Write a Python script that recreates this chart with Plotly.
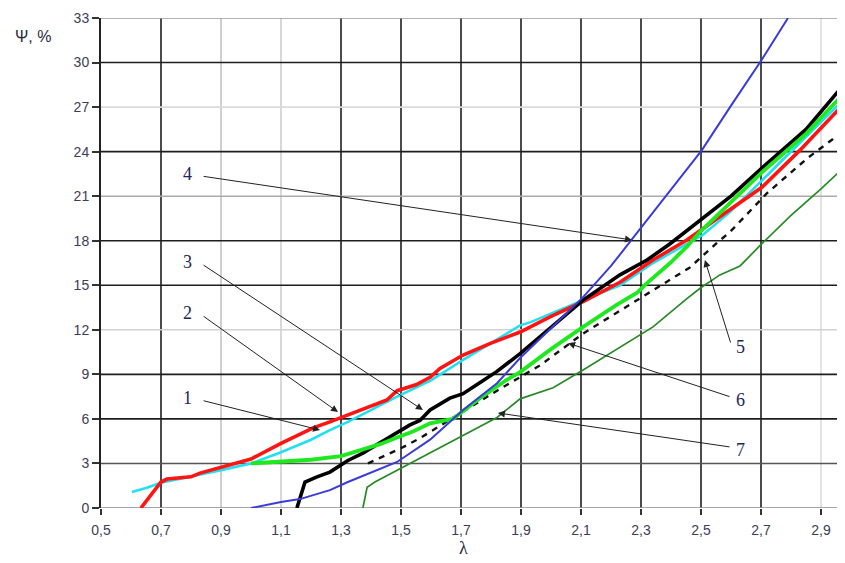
import plotly.graph_objects as go

# ---------------- data ----------------
x_ticks = [0.5, 0.7, 0.9, 1.1, 1.3, 1.5, 1.7, 1.9, 2.1, 2.3, 2.5, 2.7, 2.9]
x_tick_text = ["0,5", "0,7", "0,9", "1,1", "1,3", "1,5", "1,7", "1,9", "2,1", "2,3", "2,5", "2,7", "2,9"]
y_ticks = [0, 3, 6, 9, 12, 15, 18, 21, 24, 27, 30, 33]

red_x = [0.633, 0.66, 0.69, 0.70, 0.72, 0.76, 0.80, 0.83, 0.9, 1.0, 1.1, 1.207, 1.263, 1.323, 1.4,
         1.453, 1.487, 1.55, 1.597, 1.63, 1.707, 1.8, 1.897, 2.0, 2.107, 2.23, 2.34, 2.453, 2.54,
         2.703, 2.83, 2.98]
red_y = [0, 0.7, 1.45, 1.75, 1.95, 2.05, 2.1, 2.35, 2.75, 3.3, 4.35, 5.4, 5.8, 6.25, 6.85,
         7.27, 7.9, 8.3, 8.8, 9.4, 10.3, 11.1, 11.85, 12.9, 13.9, 15.2, 16.7, 18.05, 19.3,
         21.6, 24.1, 27.3]

cyan_x = [0.603, 0.65, 0.70, 0.8, 0.9, 1.0, 1.1, 1.2, 1.263, 1.323, 1.4, 1.487, 1.6, 1.707, 1.8,
          1.897, 1.93, 2.0, 2.107, 2.23, 2.34, 2.507, 2.6, 2.7, 2.8, 2.9, 2.98]
cyan_y = [1.08, 1.35, 1.7, 2.1, 2.55, 3.0, 3.75, 4.6, 5.25, 5.8, 6.6, 7.5, 8.6, 9.97, 11.1,
          12.3, 12.5, 13.1, 14.0, 15.0, 16.5, 18.4, 20.0, 22.0, 24.0, 26.0, 27.6]

black_x = [1.153, 1.165, 1.18, 1.22, 1.263, 1.323, 1.373, 1.43, 1.487, 1.53, 1.563, 1.597, 1.663,
           1.707, 1.76, 1.82, 1.897, 2.0, 2.107, 2.23, 2.32, 2.397, 2.507, 2.6, 2.703, 2.85, 2.98]
black_y = [0, 0.8, 1.75, 2.1, 2.42, 3.2, 3.7, 4.4, 5.1, 5.6, 5.9, 6.6, 7.4,
           7.7, 8.4, 9.2, 10.4, 12.2, 14.0, 15.7, 16.7, 17.8, 19.5, 21.0, 22.9, 25.5, 28.6]

blue_x = [1.0, 1.1, 1.163, 1.22, 1.263, 1.323, 1.4, 1.487, 1.597, 1.707, 1.82, 1.897, 2.0, 2.107,
          2.2, 2.313, 2.4, 2.503, 2.6, 2.703, 2.79]
blue_y = [0.0, 0.4, 0.6, 0.95, 1.2, 1.75, 2.4, 3.1, 4.6, 6.6, 8.4, 10.1, 12.1, 14.2,
          16.3, 19.2, 21.4, 24.1, 27.1, 30.2, 33.0]

dash_x = [1.39, 1.457, 1.507, 1.563, 1.7, 1.82, 1.963, 2.107, 2.207, 2.363, 2.463, 2.553, 2.597,
          2.72, 2.857, 2.97]
dash_y = [3.0, 3.6, 4.1, 4.7, 6.4, 7.9, 9.6, 11.75, 13.0, 14.95, 16.2, 17.85, 18.6,
          21.2, 23.6, 25.3]

green_x = [1.0, 1.1, 1.2, 1.3, 1.373, 1.43, 1.487, 1.54, 1.597, 1.673, 1.763, 1.85, 1.897, 2.0,
           2.107, 2.22, 2.287, 2.32, 2.397, 2.453, 2.497, 2.563, 2.703, 2.85, 2.98]
green_y = [3.0, 3.1, 3.25, 3.5, 3.95, 4.3, 4.75, 5.15, 5.7, 6.0, 7.4, 8.6, 9.15, 10.7,
           12.2, 13.7, 14.5, 15.15, 16.5, 17.6, 18.6, 19.9, 22.6, 25.2, 28.0]

dkgreen_x = [1.373, 1.38, 1.387, 1.413, 1.487, 1.597, 1.707, 1.82, 1.897, 2.007, 2.107, 2.23,
             2.34, 2.453, 2.497, 2.563, 2.63, 2.703, 2.8, 2.9, 2.98]
dkgreen_y = [0, 0.7, 1.4, 1.75, 2.55, 3.7, 4.9, 6.1, 7.35, 8.1, 9.3, 10.85,
             12.2, 14.1, 14.8, 15.7, 16.3, 17.8, 19.7, 21.5, 23.0]

# curve labels: (text, label x, label y, arrow tip x, arrow tip y)
labels = [
    ("1", 0.787, 7.4, 1.23, 5.25),
    ("2", 0.787, 13.13, 1.29, 6.46),
    ("3", 0.787, 16.57, 1.573, 6.6),
    ("4", 0.787, 22.5, 2.27, 18.05),
    ("5", 2.63, 10.84, 2.513, 16.7),
    ("6", 2.63, 7.27, 2.057, 11.1),
    ("7", 2.63, 3.9, 1.823, 6.4),
]

# ---------------- figure ----------------
fig = go.Figure()

def add(x, y, color, width, dash="solid"):
    fig.add_trace(go.Scatter(x=x, y=y, mode="lines",
                             line=dict(color=color, width=width, dash=dash),
                             hoverinfo="skip", showlegend=False))

add(dash_x, dash_y, "#111111", 2.4, dash="6px,6px")
add(cyan_x, cyan_y, "#22e0f0", 2.6)
add(red_x, red_y, "#ff1414", 3.6)
add(black_x, black_y, "#000000", 3.6)
add(green_x, green_y, "#1ee81e", 3.8)
add(blue_x, blue_y, "#3b3bd8", 2.0)
add(dkgreen_x, dkgreen_y, "#278a27", 1.7)

# grid lines (style per tick)
x_grid_color = {0.9: "#c4c4c4", 1.1: "#cfcfcf", 2.9: "#dcdcdc"}
y_grid_color = {33: "#9a9a9a", 27: "#dadada", 21: "#aaaaaa", 12: "#d2d2d2", 3: "#555555", 0: "#8a8a8a"}
shapes = []
for v in x_ticks[1:]:
    shapes.append(dict(type="line", xref="x", yref="paper", x0=v, x1=v, y0=0, y1=1,
                       line=dict(color=x_grid_color.get(v, "#1e1e1e"), width=1.6), layer="below"))
for v in y_ticks:
    shapes.append(dict(type="line", xref="paper", yref="y", x0=0, x1=1, y0=v, y1=v,
                       line=dict(color=y_grid_color.get(v, "#1e1e1e"), width=1.6), layer="below"))

annotations = []
for t, lx, ly, tx, ty in labels:
    sx = lx + (0.05 if lx < 1.5 else -0.03)
    sy = ly + (-0.15 if lx < 1.5 else 0.2)
    annotations.append(dict(x=tx, y=ty, ax=sx, ay=sy, xref="x", yref="y", axref="x", ayref="y",
                            text="", showarrow=True, arrowhead=2, arrowsize=1.4, arrowwidth=1,
                            arrowcolor="#222222"))
    annotations.append(dict(x=lx, y=ly, xref="x", yref="y", text=t, showarrow=False,
                            font=dict(family="Liberation Serif, Times New Roman, serif", size=18,
                                      color="#1c2652"),
                            xanchor="center", yanchor="middle"))

annotations.append(dict(xref="paper", yref="paper", x=-0.0914, y=0.963, text="Ψ, %", showarrow=False,
                        font=dict(family="Liberation Sans, Arial, sans-serif", size=16, color="#2a2a3a"),
                        xanchor="center", yanchor="middle"))
annotations.append(dict(xref="paper", yref="paper", x=0.4866, y=-0.082, text="λ", showarrow=False,
                        font=dict(family="Liberation Serif, serif", size=18, color="#2a2a3a"),
                        xanchor="center", yanchor="middle"))

tick_font = dict(family="Liberation Sans, Arial, sans-serif", size=14, color="#3d3d55")

fig.update_layout(
    width=837, height=555,
    margin=dict(l=93, r=0, t=10, b=55),
    paper_bgcolor="white", plot_bgcolor="white",
    shapes=shapes, annotations=annotations,
    xaxis=dict(range=[0.5, 2.98], tickvals=x_ticks, ticktext=x_tick_text, showgrid=False,
               zeroline=False, showline=False, ticks="outside", ticklen=6, tickcolor="#333333",
               tickwidth=1.5, tickfont=tick_font, ticklabelstandoff=3),
    yaxis=dict(range=[0, 33], tickvals=y_ticks, showgrid=False, zeroline=False,
               showline=True, linecolor="#222222", linewidth=2, ticks="outside", ticklen=7,
               tickcolor="#333333", tickwidth=1.5, tickfont=tick_font),
)

fig.write_html("out.html")
